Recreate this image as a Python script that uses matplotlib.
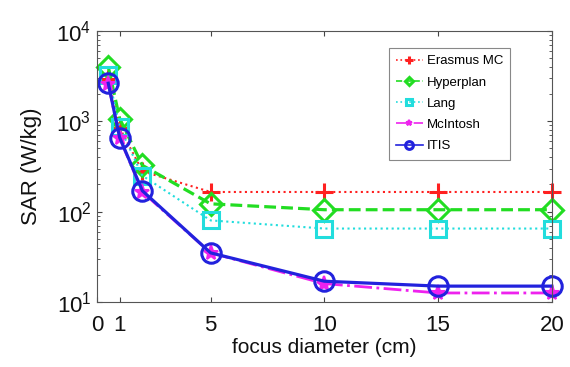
import numpy as np
import matplotlib
matplotlib.use("Agg")
import matplotlib.pyplot as plt

plt.rcParams['font.family'] = ['Liberation Sans', 'DejaVu Sans']
plt.rcParams['mathtext.fontset'] = 'custom'
plt.rcParams['mathtext.rm'] = 'Liberation Sans'
plt.rcParams['mathtext.it'] = 'Liberation Sans'

# focus diameter (cm) and SAR (W/kg) per planning system
diameter = [0.5, 1, 2, 5, 10, 15, 20]
erasmus = [2900, 850, 280, 165, 165, 165, 165]
hyperplan = [4000, 1070, 325, 122, 105, 105, 105]
lang = [3250, 860, 250, 80, 65, 65, 65]
mcintosh = [2600, 650, 165, 35, 16, 12.6, 12.6]
itis = [2630, 660, 170, 35, 17, 15, 15]

fig = plt.figure(figsize=(5.7, 3.67), dpi=100)
ax = fig.add_axes([0.170, 0.177, 0.798, 0.739])

ax.plot(diameter, erasmus, color='#ff2020', ls=':', lw=1.5, marker='+', ms=13, mew=2.2, label='Erasmus MC', clip_on=False)
ax.plot(diameter, hyperplan, color='#22dd22', ls='--', lw=2.3, marker='D', ms=11, mew=2.2, mfc='none', label='Hyperplan', clip_on=False)
ax.plot(diameter, lang, color='#22dddd', ls=':', lw=1.5, marker='s', ms=11, mew=2.2, mfc='none', label='Lang', clip_on=False)
ax.plot(diameter, mcintosh, color='#ee22ee', ls='-.', lw=2.0, marker='*', ms=11, mew=1.5, label='McIntosh', clip_on=False)
ax.plot(diameter, itis, color='#2222dd', ls='-', lw=2.3, marker='o', ms=14, mew=2.2, mfc='none', label='ITIS', clip_on=False)

ax.set_yscale('log')
ax.set_xlim(0, 20)
ax.set_ylim(10, 1e4)
ax.set_xticks([0, 1, 5, 10, 15, 20])
ax.set_xticklabels(['0', '1', '5', '10', '15', '20'])
ax.tick_params(axis='both', which='both', direction='in', top=True, right=True, colors='#444444', labelcolor='#111111')
ax.tick_params(axis='x', labelsize=16, pad=9)
ax.tick_params(axis='y', labelsize=16, pad=4)
for sp in ax.spines.values():
    sp.set_color('#555555')

ax.set_xlabel('focus diameter (cm)', fontsize=15, labelpad=2, color='#111111')
ax.set_ylabel('SAR (W/kg)', fontsize=16, labelpad=10, color='#111111')

leg = ax.legend(loc='upper left', bbox_to_anchor=(389 / 570, 1 - 48 / 367), bbox_transform=fig.transFigure,
                borderaxespad=0, fontsize=9.5, markerscale=0.4, handlelength=2.0, handletextpad=0.3,
                labelspacing=0.68, borderpad=0.55, fancybox=False, framealpha=1)
leg.get_frame().set_edgecolor('#888888')
leg.get_frame().set_linewidth(0.8)
for line in leg.get_lines():
    line.set_linewidth(1.2)

fig.savefig('out.png', dpi=100)
